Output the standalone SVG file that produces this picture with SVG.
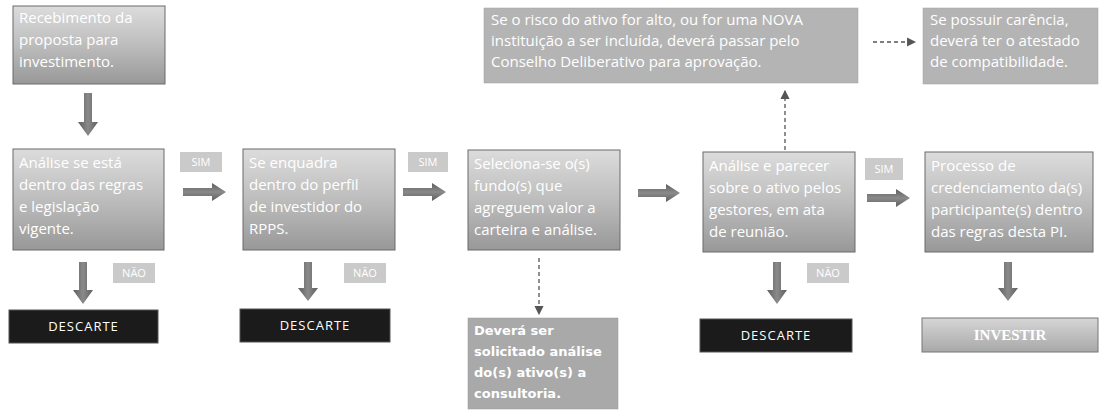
<svg xmlns="http://www.w3.org/2000/svg" width="1105" height="411" viewBox="0 0 1105 411">
<defs>
<linearGradient id="gBox" x1="0" y1="0" x2="0" y2="1">
<stop offset="0" stop-color="#dcdcdc"/>
<stop offset="0.5" stop-color="#bdbdbd"/>
<stop offset="1" stop-color="#989898"/>
</linearGradient>
<linearGradient id="gInv" x1="0" y1="0" x2="0" y2="1">
<stop offset="0" stop-color="#d6d6d6"/>
<stop offset="1" stop-color="#a8a8a8"/>
</linearGradient>
<linearGradient id="gArrV" x1="0" y1="0" x2="1" y2="0">
<stop offset="0" stop-color="#5e5e5e"/>
<stop offset="0.5" stop-color="#8a8a8a"/>
<stop offset="1" stop-color="#5e5e5e"/>
</linearGradient>
<linearGradient id="gArrH" x1="0" y1="0" x2="0" y2="1">
<stop offset="0" stop-color="#5e5e5e"/>
<stop offset="0.5" stop-color="#8a8a8a"/>
<stop offset="1" stop-color="#5e5e5e"/>
</linearGradient>
<marker id="mDash" viewBox="0 0 8 8" refX="7" refY="4" markerWidth="7" markerHeight="7" orient="auto">
<path d="M0,0 L8,4 L0,8 Z" fill="#555"/>
</marker>
<style>
.box{fill:url(#gBox);stroke:#6a6a6a;stroke-width:1}
.flat{fill:#b4b4b4;stroke:#a0a0a0;stroke-width:0.5}
.note{fill:#a9a9a9;stroke:#999;stroke-width:0.5}
.tag{fill:#cacaca}
.dark{fill:#1b1b1b;stroke:#555;stroke-width:1}
.inv{fill:url(#gInv);stroke:#777;stroke-width:1}
.t{font-family:"Open Sans","DejaVu Sans",sans-serif;font-size:15px;fill:#ffffff}
.tb{font-family:"DejaVu Sans","Open Sans",sans-serif;font-size:13px;font-weight:bold;fill:#ffffff}
.tag-t{font-family:"Open Sans","DejaVu Sans",sans-serif;font-size:11px;fill:#ffffff;text-anchor:middle}
.dsc{font-family:"Open Sans","DejaVu Sans",sans-serif;font-size:13px;fill:#ffffff;text-anchor:middle;letter-spacing:1px}
.invt{font-family:"Liberation Serif",serif;font-size:15px;font-weight:bold;fill:#ffffff;text-anchor:middle}
.av{fill:url(#gArrV)}
.ah{fill:url(#gArrH)}
.dash{fill:none;stroke:#555;stroke-width:1.3;stroke-dasharray:4 3}
</style>
</defs>
<rect width="1105" height="411" fill="#ffffff"/>

<g id="n-recebimento">
<rect class="box" x="13" y="6" width="152" height="78"/>
<text class="t" x="19" y="23">Recebimento da</text>
<text class="t" x="19" y="45">proposta para</text>
<text class="t" x="19" y="67">investimento.</text>
</g>

<g id="n-analise">
<rect class="box" x="13" y="149" width="151" height="101"/>
<text class="t" x="19" y="168">Análise se está</text>
<text class="t" x="19" y="190">dentro das regras</text>
<text class="t" x="19" y="212">e legislação</text>
<text class="t" x="19" y="234">vigente.</text>
</g>

<g id="n-perfil">
<rect class="box" x="243" y="149" width="152" height="101"/>
<text class="t" x="249" y="168">Se enquadra</text>
<text class="t" x="249" y="190">dentro do perfil</text>
<text class="t" x="249" y="212">de investidor do</text>
<text class="t" x="249" y="234">RPPS.</text>
</g>

<g id="n-seleciona">
<rect class="box" x="468" y="150" width="152" height="100"/>
<text class="t" x="474" y="169">Seleciona-se o(s)</text>
<text class="t" x="474" y="191">fundo(s) que</text>
<text class="t" x="474" y="213">agreguem valor a</text>
<text class="t" x="474" y="235">carteira e análise.</text>
</g>

<g id="n-consultoria">
<rect class="note" x="468" y="318" width="150" height="91"/>
<text class="tb" x="474" y="335">Deverá ser</text>
<text class="tb" x="474" y="356">solicitado análise</text>
<text class="tb" x="474" y="377">do(s) ativo(s) a</text>
<text class="tb" x="474" y="398">consultoria.</text>
</g>

<g id="n-parecer">
<rect class="box" x="703" y="152" width="152" height="100"/>
<text class="t" x="709" y="171">Análise e parecer</text>
<text class="t" x="709" y="193">sobre o ativo pelos</text>
<text class="t" x="709" y="215">gestores, em ata</text>
<text class="t" x="709" y="237">de reunião.</text>
</g>

<g id="n-credenciamento">
<rect class="box" x="925" y="152" width="168" height="100"/>
<text class="t" x="931" y="171">Processo de</text>
<text class="t" x="931" y="193">credenciamento da(s)</text>
<text class="t" x="931" y="215">participante(s) dentro</text>
<text class="t" x="931" y="237">das regras desta PI.</text>
</g>

<g id="n-conselho">
<rect class="flat" x="484" y="8" width="374" height="75"/>
<text class="t" x="491" y="25">Se o risco do ativo for alto, ou for uma NOVA</text>
<text class="t" x="491" y="46">instituição a ser incluída, deverá passar pelo</text>
<text class="t" x="491" y="67">Conselho Deliberativo para aprovação.</text>
</g>

<g id="n-carencia">
<rect class="flat" x="923" y="8" width="175" height="76"/>
<text class="t" x="930" y="25">Se possuir carência,</text>
<text class="t" x="930" y="46">deverá ter o atestado</text>
<text class="t" x="930" y="67">de compatibilidade.</text>
</g>

<g id="n-descarte1">
<rect class="dark" x="9" y="310" width="149" height="33"/>
<text class="dsc" x="83.5" y="331">DESCARTE</text>
</g>
<g id="n-descarte2">
<rect class="dark" x="240" y="309" width="150" height="33"/>
<text class="dsc" x="315" y="330">DESCARTE</text>
</g>
<g id="n-descarte3">
<rect class="dark" x="700" y="319" width="152" height="33"/>
<text class="dsc" x="776" y="340">DESCARTE</text>
</g>
<g id="n-investir">
<rect class="inv" x="922" y="318" width="176" height="34"/>
<text class="invt" x="1010" y="340">INVESTIR</text>
</g>

<g id="labels">
<rect class="tag" x="180" y="152" width="42" height="20"/>
<text class="tag-t" x="201" y="166">SIM</text>
<rect class="tag" x="408" y="152" width="40" height="20"/>
<text class="tag-t" x="428" y="166">SIM</text>
<rect class="tag" x="865" y="158" width="38" height="22"/>
<text class="tag-t" x="884" y="173">SIM</text>
<rect class="tag" x="113" y="263" width="42" height="20"/>
<text class="tag-t" x="134" y="277">NÃO</text>
<rect class="tag" x="344" y="263" width="42" height="20"/>
<text class="tag-t" x="365" y="277">NÃO</text>
<rect class="tag" x="807" y="263" width="42" height="20"/>
<text class="tag-t" x="828" y="277">NÃO</text>
</g>

<g id="connectors">
<path class="av" d="M84,93 H92 V122 H98 L88,136 L78,122 H84 Z"/>
<path class="av" d="M79,262 H87 V290 H93 L83,304 L73,290 H79 Z"/>
<path class="av" d="M304,262 H312 V288 H318 L308,301 L298,288 H304 Z"/>
<path class="av" d="M773,262 H781 V290 H787 L777,304 L767,290 H773 Z"/>
<path class="av" d="M1004,262 H1012 V288 H1018 L1008,301 L998,288 H1004 Z"/>
<path class="ah" d="M183,188 V196 H212 V201 L226,192 L212,183 V188 Z"/>
<path class="ah" d="M403,188 V196 H432 V201 L446,192 L432,183 V188 Z"/>
<path class="ah" d="M638,189 V197 H666 V202 L680,193 L666,184 V189 Z"/>
<path class="ah" d="M867,194 V202 H896 V207 L910,198 L896,189 V194 Z"/>
<line class="dash" x1="539" y1="258" x2="539" y2="314" marker-end="url(#mDash)"/>
<line class="dash" x1="785" y1="150" x2="785" y2="91" marker-end="url(#mDash)"/>
<line class="dash" x1="873" y1="42" x2="915" y2="42" marker-end="url(#mDash)"/>
</g>
</svg>
